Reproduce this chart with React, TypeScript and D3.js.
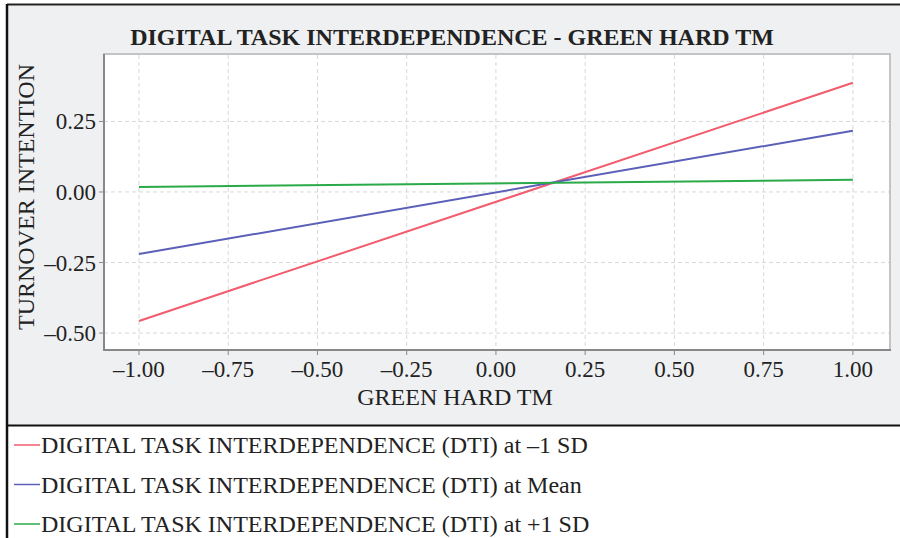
import React from 'react';
import * as d3 from 'd3';

const xValues = [-1, 1];
const dtiLow = [-0.457, 0.387];
const dtiMean = [-0.22, 0.217];
const dtiHigh = [0.018, 0.043];

const xTicks = [-1, -0.75, -0.5, -0.25, 0, 0.25, 0.5, 0.75, 1];
const yTicks = [-0.5, -0.25, 0, 0.25];

const seriesNames = [
  'DIGITAL TASK INTERDEPENDENCE (DTI) at \u20131 SD',
  'DIGITAL TASK INTERDEPENDENCE (DTI) at Mean',
  'DIGITAL TASK INTERDEPENDENCE (DTI) at +1 SD',
];
const seriesColors = ['#f25c6e', '#5c5fb8', '#2aaa48'];
const seriesValues = [dtiLow, dtiMean, dtiHigh];

const W = 900, H = 538;
const plot = { left: 104, right: 890, top: 54, bottom: 350 };
const font = '"Liberation Serif", "Times New Roman", serif';

const App = () => {
  const x = d3.scaleLinear().domain([-1.098, 1.104]).range([plot.left, plot.right]);
  const y = d3.scaleLinear().domain([-0.56, 0.489]).range([plot.bottom, plot.top]);
  const fmt = (v: number) => d3.format('.2f')(v).replace('-', '\u2013').replace('\u2212', '\u2013');
  const line = d3.line<number>().x((_, i) => x(xValues[i])).y(d => y(d));

  return (
    <svg width={W} height={H} style={{ position: 'absolute', left: 0, top: 0, fontFamily: font }}>
      <rect x={0} y={0} width={W} height={H} fill="#fff" />
      {/* gray chart panel */}
      <rect x={7} y={4} width={W - 7} height={421} fill="#eff0f2" />
      <line x1={7} x2={W} y1={4.5} y2={4.5} stroke="#222" strokeWidth={2} />
      <line x1={7} x2={7} y1={4} y2={H} stroke="#111" strokeWidth={2.5} />
      <line x1={7} x2={W} y1={425.5} y2={425.5} stroke="#111" strokeWidth={2} />

      <text x={452} y={45} textAnchor="middle" fontSize={24} fontWeight="bold" fill="#222">
        DIGITAL TASK INTERDEPENDENCE - GREEN HARD TM
      </text>

      <rect x={plot.left} y={plot.top} width={plot.right - plot.left} height={plot.bottom - plot.top}
        fill="#fff" stroke="#c4c4c4" strokeWidth={2} />

      {xTicks.map(t => (
        <line key={'gx' + t} x1={x(t)} x2={x(t)} y1={plot.top + 1} y2={plot.bottom}
          stroke="#d8d8d8" strokeDasharray="4,3" />
      ))}
      {yTicks.map(t => (
        <line key={'gy' + t} x1={plot.left} x2={plot.right - 1} y1={y(t)} y2={y(t)}
          stroke="#d8d8d8" strokeDasharray="4,3" />
      ))}

      {seriesValues.map((vals, i) => (
        <path key={'s' + i} d={line(vals) || ''} fill="none" stroke={seriesColors[i]} strokeWidth={2} />
      ))}

      {/* axes */}
      <line x1={plot.left} x2={plot.left} y1={plot.top} y2={plot.bottom + 1} stroke="#888" strokeWidth={2} />
      <line x1={plot.left - 1} x2={plot.right + 1} y1={plot.bottom} y2={plot.bottom} stroke="#888" strokeWidth={2} />

      {xTicks.map(t => (
        <g key={'tx' + t}>
          <line x1={x(t)} x2={x(t)} y1={plot.bottom} y2={plot.bottom + 5} stroke="#888" />
          <text x={x(t)} y={plot.bottom + 27} textAnchor="middle" fontSize={23} fill="#222">{fmt(t)}</text>
        </g>
      ))}
      {yTicks.map(t => (
        <g key={'ty' + t}>
          <line x1={plot.left - 5} x2={plot.left} y1={y(t)} y2={y(t)} stroke="#888" />
          <text x={plot.left - 8} y={y(t) + 8} textAnchor="end" fontSize={23} fill="#222">{fmt(t)}</text>
        </g>
      ))}

      <text x={455} y={405} textAnchor="middle" fontSize={24} fill="#222">GREEN HARD TM</text>
      <text transform="translate(34,197) rotate(-90)" textAnchor="middle" fontSize={24} fill="#222">
        TURNOVER INTENTION
      </text>

      {seriesNames.map((name, i) => (
        <g key={'lg' + i} transform={`translate(0,${445 + i * 39.5})`}>
          <line x1={14} x2={40} y1={0} y2={0} stroke={seriesColors[i]} strokeWidth={1.5} />
          <text x={41} y={8} fontSize={24} fill="#222">{name}</text>
        </g>
      ))}
    </svg>
  );
};

export default App;
